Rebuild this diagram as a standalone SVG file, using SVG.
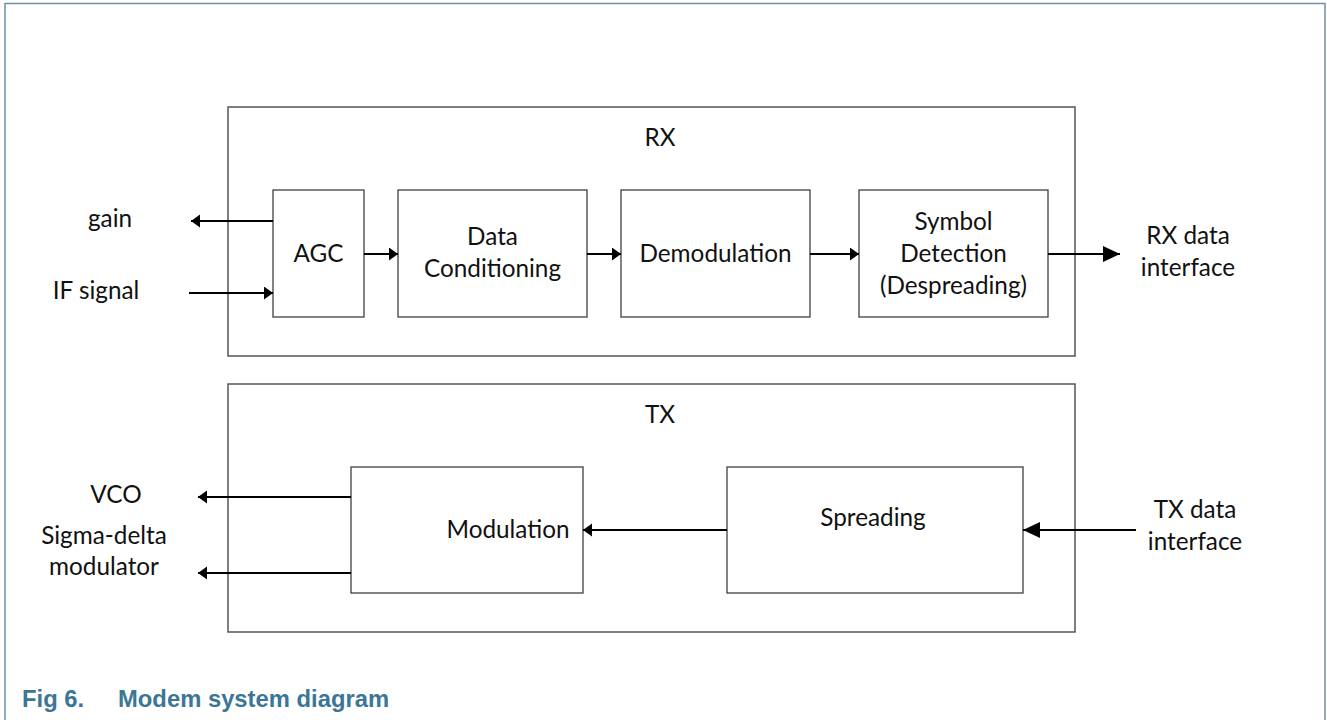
<svg xmlns="http://www.w3.org/2000/svg" width="1327" height="720" viewBox="0 0 1327 720">
<style>
  .frame{fill:none;stroke:#6f8fa3;stroke-width:1.5}
  .group{fill:#fff;stroke:#555;stroke-width:1.5}
  .blk{fill:#fff;stroke:#404040;stroke-width:1.3}
  .lbl{font-family:Lato,"Liberation Sans",sans-serif;font-size:24.3px;fill:#111;text-anchor:middle}
  .con{stroke:#000;stroke-width:2;fill:none}
  .cap{font-family:"Liberation Sans",Arial,sans-serif;font-weight:bold;font-size:23.8px;fill:#3c7697}
</style>
<defs>
  <marker id="ah" markerUnits="userSpaceOnUse" markerWidth="10" markerHeight="14" refX="9" refY="6.5" orient="auto">
    <path d="M0,0 L9,6.5 L0,13 z" fill="#000"/>
  </marker>
  <marker id="ahL" markerUnits="userSpaceOnUse" markerWidth="18" markerHeight="17" refX="17" refY="8" orient="auto">
    <path d="M0,0 L17,8 L0,16 z" fill="#000"/>
  </marker>
</defs>
<rect width="1327" height="720" fill="#fff"/>
<path class="frame" d="M5,725 L5,3.5 L1325,3.5 L1325,725"/>

<g id="rx">
  <rect class="group" x="228" y="107" width="847" height="249"/>
  <text class="lbl" x="660" y="146">RX</text>
</g>
<g id="tx">
  <rect class="group" x="228" y="384" width="847" height="248"/>
  <text class="lbl" x="660" y="423">TX</text>
</g>

<g id="agc">
  <rect class="blk" x="273" y="190" width="91" height="127"/>
  <text class="lbl" x="318.5" y="262">AGC</text>
</g>
<g id="data-conditioning">
  <rect class="blk" x="398" y="190" width="189" height="127"/>
  <text class="lbl" x="492.5" y="245">Data</text>
  <text class="lbl" x="492.5" y="277">Conditioning</text>
</g>
<g id="demodulation">
  <rect class="blk" x="621" y="190" width="189" height="127"/>
  <text class="lbl" x="715.5" y="262">Demodulation</text>
</g>
<g id="symbol-detection">
  <rect class="blk" x="859" y="190" width="189" height="127"/>
  <text class="lbl" x="953.5" y="230">Symbol</text>
  <text class="lbl" x="953.5" y="262">Detection</text>
  <text class="lbl" x="953.5" y="294">(Despreading)</text>
</g>
<g id="modulation">
  <rect class="blk" x="351" y="467" width="232" height="126"/>
  <text class="lbl" x="508" y="538">Modulation</text>
</g>
<g id="spreading">
  <rect class="blk" x="727" y="467" width="296" height="126"/>
  <text class="lbl" x="873" y="526">Spreading</text>
</g>

<g id="io-labels">
  <text class="lbl" x="110" y="227">gain</text>
  <text class="lbl" x="96" y="299">IF signal</text>
  <text class="lbl" x="1188" y="244">RX data</text>
  <text class="lbl" x="1188" y="276">interface</text>
  <text class="lbl" x="116" y="503">VCO</text>
  <text class="lbl" x="104" y="544">Sigma-delta</text>
  <text class="lbl" x="104" y="575">modulator</text>
  <text class="lbl" x="1195" y="518">TX data</text>
  <text class="lbl" x="1195" y="550">interface</text>
</g>

<g id="connectors">
  <line class="con" x1="273" y1="221" x2="191" y2="221" marker-end="url(#ah)"/>
  <line class="con" x1="189" y1="293" x2="273" y2="293" marker-end="url(#ah)"/>
  <line class="con" x1="364" y1="254" x2="398" y2="254" marker-end="url(#ah)"/>
  <line class="con" x1="587" y1="254" x2="621" y2="254" marker-end="url(#ah)"/>
  <line class="con" x1="810" y1="254" x2="859" y2="254" marker-end="url(#ah)"/>
  <line class="con" x1="1048" y1="254" x2="1120" y2="254" marker-end="url(#ahL)"/>
  <line class="con" x1="351" y1="497" x2="198" y2="497" marker-end="url(#ah)"/>
  <line class="con" x1="351" y1="573" x2="198" y2="573" marker-end="url(#ah)"/>
  <line class="con" x1="727" y1="530" x2="583" y2="530" marker-end="url(#ah)"/>
  <line class="con" x1="1136" y1="530" x2="1023" y2="530" marker-end="url(#ahL)"/>
</g>

<g id="caption">
  <text class="cap" x="22" y="707">Fig 6.</text>
  <text class="cap" x="118" y="707">Modem system diagram</text>
</g>
</svg>
